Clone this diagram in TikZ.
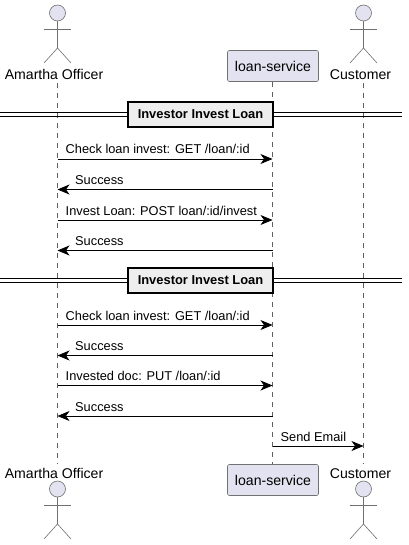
\documentclass[tikz,border=0pt]{standalone}
\usepackage{fontspec}
\setmainfont{Liberation Sans}
\usetikzlibrary{arrows.meta,positioning}
\definecolor{partfill}{HTML}{E2E2F0}
\definecolor{partline}{HTML}{181818}
\definecolor{lifeline}{HTML}{606060}
\definecolor{actline}{HTML}{707070}
\definecolor{divfill}{HTML}{EEEEEE}
\tikzset{
  x=1pt,y=-1pt,
  lifel/.style={draw=lifeline,line width=.5pt,dash pattern=on 5pt off 5pt},
  msg/.style={draw=black,line width=.75pt,-{Stealth[length=12pt,width=10pt,inset=3.5pt]}},
  msglabel/.style={font=\fontsize{12.8}{14}\selectfont,inner sep=0pt,anchor=base west},
  namelabel/.style={font=\fontsize{14.1}{16}\selectfont,inner sep=0pt,anchor=base},
  partbox/.style={draw=actline,fill=partfill,rounded corners=2pt,line width=.6pt,minimum width=91pt,minimum height=31pt,inner sep=0pt,font=\fontsize{14.1}{16}\selectfont},
  divbox/.style={draw=black,fill=divfill,line width=1.5pt,minimum width=145pt,minimum height=25pt,inner sep=0pt,font=\bfseries\fontsize{12.9}{14}\selectfont},
  divline/.style={draw=black,line width=.9pt},
  headst/.style={circle,draw=actline,fill=partfill,line width=.6pt,minimum size=16pt,inner sep=0pt},
  limb/.style={draw=actline,line width=.6pt}
}
\newcommand{\stickman}[3]{% name, x, head y
  \node[headst] (#1h) at (#2,#3) {};
  \coordinate (#1n) at (#2,#3+16);
  \coordinate (#1w) at (#2,#3+35);
  \coordinate (#1al) at (#2-13.5,#3+16);
  \coordinate (#1ar) at (#2+13.5,#3+16);
  \coordinate (#1ll) at (#2-13.5,#3+50);
  \coordinate (#1lr) at (#2+13.5,#3+50);
  \draw[limb] (#1h.south) -- (#1w);
  \draw[limb] (#1al) -- (#1ar);
  \draw[limb] (#1ll) -- (#1w) -- (#1lr);
}
\newcommand{\divider}[2]{% name, y
  \node[divbox] (#1) at (200.5,#2) {Investor Invest Loan\hspace{5pt}};
  \coordinate (#1l) at (0,#2);
  \coordinate (#1r) at (402,#2);
  \draw[divline] ([yshift=2pt]#1l) -- ([yshift=2pt]#1l -| #1.west);
  \draw[divline] ([yshift=-2pt]#1l) -- ([yshift=-2pt]#1l -| #1.west);
  \draw[divline] ([yshift=2pt]#1.east |- #1r) -- ([yshift=2pt]#1r);
  \draw[divline] ([yshift=-2pt]#1.east |- #1r) -- ([yshift=-2pt]#1r);
}
\begin{document}
\begin{tikzpicture}
\useasboundingbox (0,0) rectangle (408,545);
% lifelines
\coordinate (offT) at (57.5,83);
\coordinate (offB) at (57.5,464);
\coordinate (svcT) at (272.5,82);
\coordinate (svcB) at (272.5,464);
\coordinate (cusT) at (363.5,83);
\coordinate (cusB) at (363.5,464);
\draw[lifel] (offT) -- (offB);
\draw[lifel] (svcT) -- (svcB);
\draw[lifel] (cusT) -- (cusB);
% participants
\stickman{ot}{57.5}{13}
\stickman{ct}{363.5}{13}
\stickman{ob}{57.5}{489}
\stickman{cb}{363.5}{489}
\node[namelabel,fill=white,inner xsep=1pt] (otl) at (54,80) {Amartha Officer};
\node[namelabel,fill=white,inner xsep=1pt] (ctl) at (360.5,80) {Customer};
\node[namelabel,fill=white,inner xsep=1pt] (obl) at (54,478) {Amartha Officer};
\node[namelabel,fill=white,inner xsep=1pt] (cbl) at (360.5,478) {Customer};
\node[partbox] (svct) at (273,66) {loan-service};
\node[partbox] (svcb) at (273,480) {loan-service};
% dividers
\divider{d1}{114.5}
\divider{d2}{280.5}
% messages
\newcommand{\msgR}[4]{%
  \coordinate (m#1a) at (svcT |- 0,#2);\coordinate (m#1b) at (offT |- 0,#2);
  \draw[msg] (m#1a) -- (m#1b);
  \node[msglabel] (t#1) at (75,#2-5) {#3};}
\newcommand{\msgF}[4]{%
  \coordinate (m#1a) at (offT |- 0,#2);\coordinate (m#1b) at (svcT |- 0,#2);
  \draw[msg] (m#1a) -- (m#1b);
  \node[msglabel] (t#1) at (65.5,#2-5) {#3};}
\msgF{1}{159}{Check loan invest: GET /loan/:id}{}
\msgR{2}{189.5}{Success}{}
\msgF{3}{220}{Invest Loan: POST loan/:id/invest}{}
\msgR{4}{250.5}{Success}{}
\msgF{5}{325}{Check loan invest: GET /loan/:id}{}
\msgR{6}{355.5}{Success}{}
\msgF{7}{385.5}{Invested doc: PUT /loan/:id}{}
\msgR{8}{416}{Success}{}
\coordinate (m9a) at (svcT |- 0,446);
\coordinate (m9b) at (cusT |- 0,446);
\draw[msg] (m9a) -- (m9b);
\node[msglabel] (t9) at (280.5,441) {Send Email};
\end{tikzpicture}
\end{document}
